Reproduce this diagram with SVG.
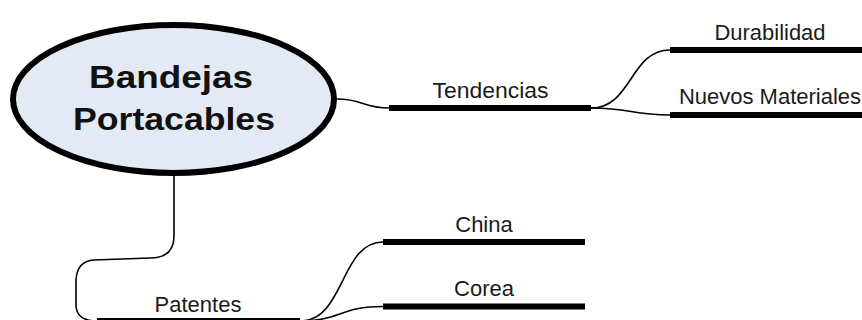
<svg xmlns="http://www.w3.org/2000/svg" width="862" height="320" viewBox="0 0 862 320">
<style>
.bar{fill:none;stroke:#000;stroke-width:6;stroke-linecap:butt}
.conn{fill:none;stroke:#000;stroke-width:1.6}
.lbl{font-family:"Liberation Sans",Arial,sans-serif;font-size:22px;fill:#1a1a1a;text-anchor:middle}
.title{font-family:"Liberation Sans",Arial,sans-serif;font-size:31px;font-weight:bold;fill:#111;text-anchor:middle}
</style>
<rect width="862" height="320" fill="#fff"/>
<g id="connectors">
<path class="conn" d="M337,99 C363,99 363,108 389,108"/>
<path class="conn" d="M591,108 C632,108 630,50 670,50"/>
<path class="conn" d="M591,108 C632,108 630,115 670,115"/>
<path class="conn" d="M174,176 L174,236 Q174,258 150,258 L94,260 Q77,261 76,280 L76,306 Q77,321 97,321"/>
<path class="conn" d="M300,321 C345,321 340,242 383,242"/>
<path class="conn" d="M300,321 C340,321 340,306.5 383,306.5"/>
</g>
<g id="root">
<ellipse cx="173.5" cy="99" rx="160.5" ry="74" fill="#E3E9F5" stroke="#000" stroke-width="6"/>
<text class="title" x="171" y="88" textLength="164" lengthAdjust="spacingAndGlyphs">Bandejas</text>
<text class="title" x="174" y="130" textLength="202" lengthAdjust="spacingAndGlyphs">Portacables</text>
</g>
<g id="tendencias">
<line class="bar" x1="389" y1="108" x2="591" y2="108"/>
<text class="lbl" x="490.5" y="97.7" textLength="116" lengthAdjust="spacingAndGlyphs">Tendencias</text>
</g>
<g id="durabilidad">
<line class="bar" x1="670" y1="50" x2="872" y2="50"/>
<text class="lbl" x="770" y="40" textLength="111" lengthAdjust="spacingAndGlyphs">Durabilidad</text>
</g>
<g id="nuevos-materiales">
<line class="bar" x1="670" y1="115" x2="872" y2="115"/>
<text class="lbl" x="770" y="103.5">Nuevos Materiales</text>
</g>
<g id="patentes">
<line class="bar" x1="97" y1="321" x2="300" y2="321"/>
<text class="lbl" x="198" y="311.7">Patentes</text>
</g>
<g id="china">
<line class="bar" x1="383" y1="242" x2="585" y2="242"/>
<text class="lbl" x="484" y="231.7">China</text>
</g>
<g id="corea">
<line class="bar" x1="383" y1="306.5" x2="585" y2="306.5"/>
<text class="lbl" x="484" y="296">Corea</text>
</g>
</svg>
